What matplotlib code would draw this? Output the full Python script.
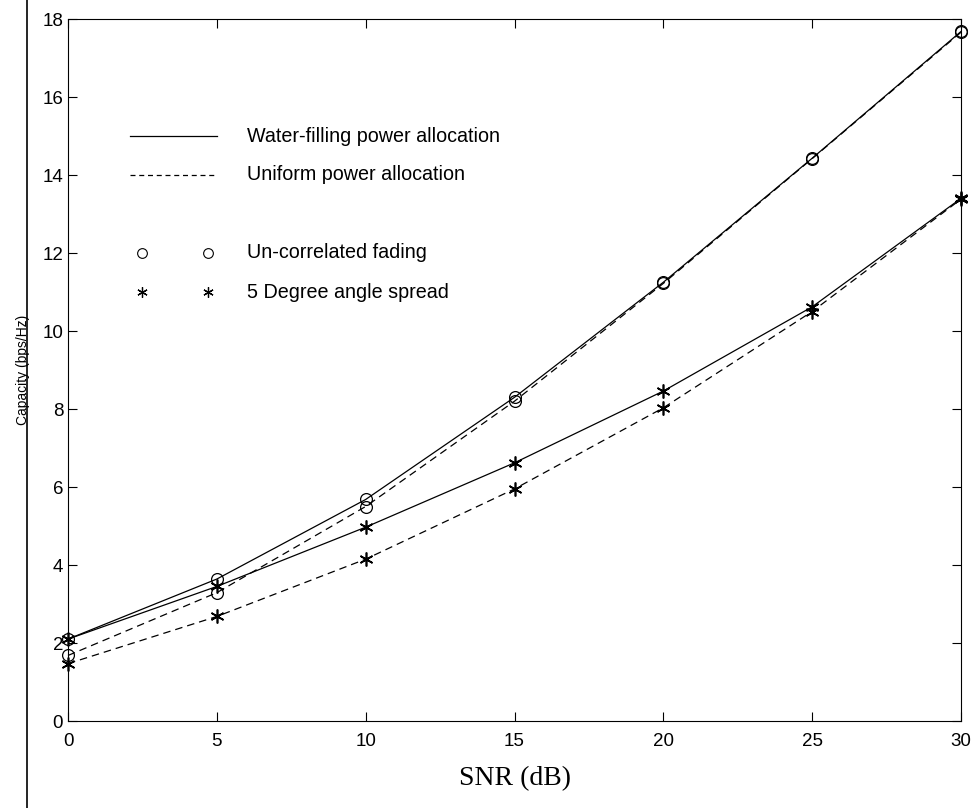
import matplotlib.pyplot as plt
from matplotlib.lines import Line2D
import numpy as np

# SNR points (dB)
snr = [0, 5, 10, 15, 20, 25, 30]

# capacity (bps/Hz)
wf_uncorr = [2.1, 3.64, 5.68, 8.3, 11.25, 14.43, 17.68]
uni_uncorr = [1.68, 3.29, 5.5, 8.2, 11.22, 14.42, 17.66]
wf_5deg = [2.1, 3.45, 4.97, 6.62, 8.46, 10.62, 13.4]
uni_5deg = [1.47, 2.68, 4.15, 5.95, 8.03, 10.5, 13.38]

legend_lines = ["Water-filling power allocation", "Uniform power allocation"]
legend_marks = ["Un-correlated fading", "5 Degree angle spread"]

plt.rcParams['font.family'] = ['Liberation Sans', 'DejaVu Sans']

fig = plt.figure(figsize=(9.72, 8.08), dpi=100)
ax = fig.add_axes([68 / 972, 1 - 721 / 808, (961 - 68) / 972, (721 - 19) / 808])

asterisk = (6, 2, 0)
dash = (0, (6, 4))

ax.plot(snr, wf_uncorr, color='black', lw=0.9, marker='o', ms=8.5,
        mfc='none', mec='black', mew=0.9, clip_on=False)
ax.plot(snr, uni_uncorr, color='black', lw=0.9, ls=dash, marker='o', ms=8.5,
        mfc='none', mec='black', mew=0.9, clip_on=False)
ax.plot(snr, wf_5deg, color='black', lw=0.9, marker=asterisk, ms=10,
        mec='black', mew=1.2, clip_on=False)
ax.plot(snr, uni_5deg, color='black', lw=0.9, ls=dash, marker=asterisk, ms=10,
        mec='black', mew=1.2, clip_on=False)

# hand-made legend, as in the original
ax.plot([2.08, 5.0], [15.0, 15.0], color='black', lw=0.9)
ax.plot([2.08, 5.0], [14.0, 14.0], color='black', lw=0.9, ls=(0, (4, 3)))
ax.plot([2.5, 4.7], [12.0, 12.0], ls='none', marker='o', ms=7,
        mfc='none', mec='black', mew=0.8)
ax.plot([2.5, 4.7], [11.0, 11.0], ls='none', marker=asterisk, ms=7.5,
        mec='black', mew=0.9)
for yy, txt in zip([15.0, 14.0, 12.0, 11.0], legend_lines + legend_marks):
    ax.text(6.0, yy, txt, fontsize=14.2, va='center', ha='left')

ax.set_xlim(0, 30)
ax.set_ylim(0, 18)
ax.set_xticks(np.arange(0, 31, 5))
ax.set_yticks(np.arange(0, 19, 2))
ax.tick_params(direction='in', length=6.5, width=0.8, top=True, right=True,
               labelsize=13.5)
ax.tick_params(axis='x', pad=9)
for s in ax.spines.values():
    s.set_linewidth(0.8)

ax.set_xlabel("SNR (dB)", family='Liberation Serif', fontsize=20, labelpad=11)
ax.set_ylabel("Capacity (bps/Hz)", fontsize=10, labelpad=9)

# scanner edge line at the left
fig.add_artist(Line2D([27 / 972, 27 / 972], [0, 1], color='black', lw=1.2))

plt.savefig("out.png", dpi=100)
